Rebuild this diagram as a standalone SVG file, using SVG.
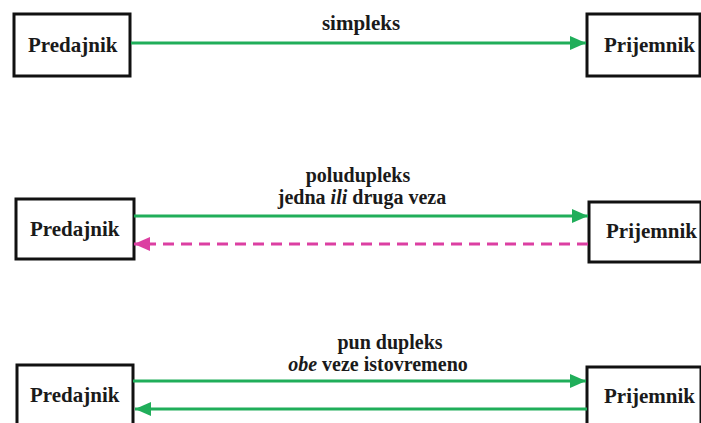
<svg xmlns="http://www.w3.org/2000/svg" width="701" height="423" viewBox="0 0 701 423">
  <style>
    .box { fill: #ffffff; stroke: #111111; stroke-width: 3; }
    text { font-family: "Liberation Serif", "Times New Roman", serif; font-weight: bold; fill: #1a1a1a; }
    .lbl { font-size: 21px; }
    .cap { font-size: 20px; }
    .green { stroke: #20ae5a; stroke-width: 3.2; fill: none; }
    .pink { stroke: #dc3fa2; stroke-width: 3.2; fill: none; stroke-dasharray: 11 7; }
  </style>
  <defs>
    <marker id="arrowGreen" markerUnits="userSpaceOnUse" markerWidth="16" markerHeight="14" refX="16" refY="7" orient="auto">
      <path d="M0,0 L16,7 L0,14 Z" fill="#20ae5a"/>
    </marker>
    <marker id="arrowPink" markerUnits="userSpaceOnUse" markerWidth="16" markerHeight="14" refX="16" refY="7" orient="auto">
      <path d="M0,0 L16,7 L0,14 Z" fill="#dc3fa2"/>
    </marker>
  </defs>
  <rect width="701" height="423" fill="#ffffff"/>

  <!-- simplex -->
  <g id="tx-simplex">
    <rect class="box" x="14" y="14" width="116" height="62"/>
    <text class="lbl" x="28" y="52">Predajnik</text>
  </g>
  <g id="rx-simplex">
    <rect class="box" x="587" y="14" width="113" height="62"/>
    <text class="lbl" x="604" y="52">Prijemnik</text>
  </g>

  <!-- half duplex -->
  <g id="tx-half">
    <rect class="box" x="16" y="199" width="118" height="60"/>
    <text class="lbl" x="30" y="236">Predajnik</text>
  </g>
  <g id="rx-half">
    <rect class="box" x="589" y="202" width="112" height="60"/>
    <text class="lbl" x="606" y="238">Prijemnik</text>
  </g>

  <!-- full duplex -->
  <g id="tx-full">
    <rect class="box" x="17" y="365" width="116" height="70"/>
    <text class="lbl" x="30" y="402">Predajnik</text>
  </g>
  <g id="rx-full">
    <rect class="box" x="587" y="367" width="114" height="70"/>
    <text class="lbl" x="604" y="403">Prijemnik</text>
  </g>

  <g id="connectors">
    <line class="green" x1="131" y1="43" x2="586" y2="43" marker-end="url(#arrowGreen)"/>
    <line class="green" x1="134" y1="216" x2="588" y2="216" marker-end="url(#arrowGreen)"/>
    <line class="pink" x1="588" y1="244" x2="134" y2="244" marker-end="url(#arrowPink)"/>
    <line class="green" x1="133" y1="381" x2="586" y2="381" marker-end="url(#arrowGreen)"/>
    <line class="green" x1="587" y1="409" x2="135" y2="409" marker-end="url(#arrowGreen)"/>
  </g>

  <g id="captions">
    <text class="lbl" x="361" y="30" text-anchor="middle">simpleks</text>
    <text class="cap" x="358" y="182" text-anchor="middle">poludupleks</text>
    <text class="cap" x="362" y="204" text-anchor="middle">jedna <tspan font-style="italic">ili</tspan> druga veza</text>
    <text class="cap" x="390" y="349" text-anchor="middle">pun dupleks</text>
    <text class="cap" x="378" y="371" text-anchor="middle"><tspan font-style="italic">obe</tspan> veze istovremeno</text>
  </g>
</svg>
